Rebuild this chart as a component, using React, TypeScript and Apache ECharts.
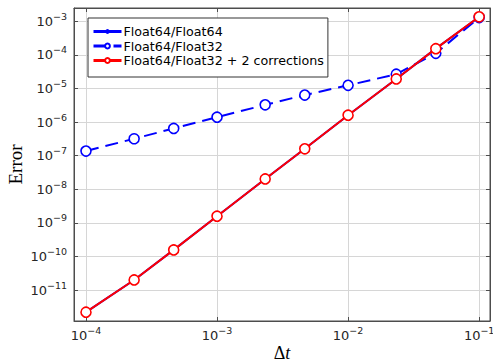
import React, { useEffect, useRef } from "react";
import * as echarts from "echarts";

const dt = [1e-4, 2.33e-4, 4.67e-4, 1e-3, 2.33e-3, 4.67e-3, 1e-2, 2.33e-2, 4.67e-2, 1e-1];
const errF64F64 = [2.2e-12, 2.0e-11, 1.57e-10, 1.58e-9, 2.03e-8, 1.61e-7, 1.61e-6, 1.93e-5, 1.54e-4, 1.35e-3];
const errF64F32 = [1.38e-7, 3.2e-7, 6.5e-7, 1.4e-6, 3.27e-6, 6.4e-6, 1.25e-5, 2.67e-5, 1.12e-4, 1.3e-3];
const errF64F32c = [2.2e-12, 2.0e-11, 1.57e-10, 1.58e-9, 2.03e-8, 1.61e-7, 1.61e-6, 1.93e-5, 1.54e-4, 1.37e-3];
const seriesNames = ["Float64/Float64", "Float64/Float32", "Float64/Float32 + 2 corrections"];
const yName = "Error";

const X_MIN = 8.1e-5;
const X_MAX = 0.121;
const Y_MIN = 1.2e-12;
const Y_MAX = 2.5e-3;

const pow10Label = (v: number) => {
  const e = Math.round(Math.log10(v));
  const s = e < 0 ? "\u2212" + String(-e) : String(e);
  return `{b|10}{s|${s}}`;
};

const labelRich = {
  b: { fontFamily: "DejaVu Sans", fontSize: 13, color: "#262626" },
  s: { fontFamily: "DejaVu Sans", fontSize: 9.5, color: "#262626", padding: [0, 0, 10, 0] },
};

const pairs = (ys: number[]) => dt.map((x, i) => [x, ys[i]]);

export default function App() {
  const ref = useRef<HTMLDivElement>(null);
  useEffect(() => {
    if (!ref.current) return;
    const chart = echarts.init(ref.current, undefined, { renderer: "svg" });
    const gridColor = "#d6d6d6";
    const axisColor = "#4d4d4d";
    const commonX = {
      type: "log",
      logBase: 10,
      min: X_MIN,
      max: X_MAX,
      splitNumber: 10,
    };
    const commonY = {
      type: "log",
      logBase: 10,
      min: Y_MIN,
      max: Y_MAX,
      splitNumber: 10,
    };
    chart.setOption({
      animation: false,
      backgroundColor: "#ffffff",
      grid: {
        left: 74,
        right: 3,
        top: 8,
        bottom: 42,
        containLabel: false,
        outerBoundsMode: "none",
        show: true,
        borderColor: axisColor,
        borderWidth: 1,
        backgroundColor: "transparent",
      },
      legend: {
        show: true,
        orient: "vertical",
        left: 88,
        top: 18,
        data: seriesNames,
        backgroundColor: "#ffffff",
        borderColor: "#333333",
        borderWidth: 1,
        borderRadius: 0,
        padding: [7, 4, 10, 4],
        itemGap: 1.5,
        itemWidth: 28,
        itemHeight: 6,
        lineStyle: { width: 3 },
        textStyle: { fontFamily: "DejaVu Sans", fontSize: 12.7, color: "#000", padding: [0, 0, 0, -3] },
        selectedMode: false,
      },
      xAxis: [
        {
          ...commonX,
          position: "bottom",
          name: `{n|Δ}{i|t}`,
          nameLocation: "middle",
          nameGap: 23,
          nameMoveOverlap: false,
          nameTextStyle: {
            verticalAlign: "top",
            rich: {
              n: { fontFamily: "Liberation Serif", fontSize: 18, lineHeight: 18, color: "#000" },
              i: { fontFamily: "Liberation Serif", fontStyle: "italic", fontSize: 18, lineHeight: 18, color: "#000" },
            },
          },
          axisLine: { show: true, lineStyle: { color: axisColor, width: 1 } },
          axisTick: { show: true, inside: true, length: 4, lineStyle: { color: axisColor } },
          minorTick: { show: false },
          axisLabel: {
            formatter: pow10Label,
            rich: labelRich,
            margin: 4,
            showMinLabel: false,
            showMaxLabel: false,
          },
          splitLine: { show: true, lineStyle: { color: gridColor, width: 1 } },
        },
        {
          ...commonX,
          position: "top",
          axisLine: { show: true, lineStyle: { color: axisColor, width: 1 } },
          axisTick: { show: true, inside: true, length: 4, lineStyle: { color: axisColor } },
          axisLabel: { show: false },
          splitLine: { show: false },
        },
      ],
      yAxis: [
        {
          ...commonY,
          position: "left",
          name: yName,
          nameLocation: "middle",
          nameGap: 49,
          nameMoveOverlap: false,
          nameTextStyle: { fontFamily: "Liberation Serif", fontSize: 19, color: "#000" },
          axisLine: { show: true, lineStyle: { color: axisColor, width: 1 } },
          axisTick: { show: true, inside: true, length: 4, lineStyle: { color: axisColor } },
          axisLabel: {
            formatter: pow10Label,
            rich: labelRich,
            margin: 7,
            showMinLabel: false,
            showMaxLabel: false,
          },
          splitLine: { show: true, lineStyle: { color: gridColor, width: 1 } },
        },
        {
          ...commonY,
          position: "right",
          axisLine: { show: true, lineStyle: { color: axisColor, width: 1 } },
          axisTick: { show: true, inside: true, length: 4, lineStyle: { color: axisColor } },
          axisLabel: { show: false },
          splitLine: { show: false },
        },
      ],
      series: [
        {
          name: seriesNames[0],
          type: "line",
          data: pairs(errF64F64),
          symbol: "circle",
          symbolSize: 4,
          showAllSymbol: true,
          lineStyle: { color: "#0000ff", width: 2 },
          itemStyle: { color: "#0000ff", borderColor: "#0000ff", borderWidth: 0 },
          z: 2,
        },
        {
          name: seriesNames[1],
          type: "line",
          data: pairs(errF64F32),
          symbol: "circle",
          symbolSize: 10,
          showAllSymbol: true,
          lineStyle: { color: "#0000ff", width: 2, type: [13, 7] },
          itemStyle: { color: "#ffffff", borderColor: "#0000ff", borderWidth: 1.6 },
          z: 3,
        },
        {
          name: seriesNames[2],
          type: "line",
          data: pairs(errF64F32c),
          symbol: "circle",
          symbolSize: 10,
          showAllSymbol: true,
          lineStyle: { color: "#ff0000", width: 2 },
          itemStyle: { color: "#ffffff", borderColor: "#ff0000", borderWidth: 1.6 },
          z: 4,
        },
      ],
    });
    return () => chart.dispose();
  }, []);
  return (
    <div
      ref={ref}
      style={{ position: "fixed", left: 0, top: 0, width: 493, height: 363, background: "#fff" }}
    />
  );
}
